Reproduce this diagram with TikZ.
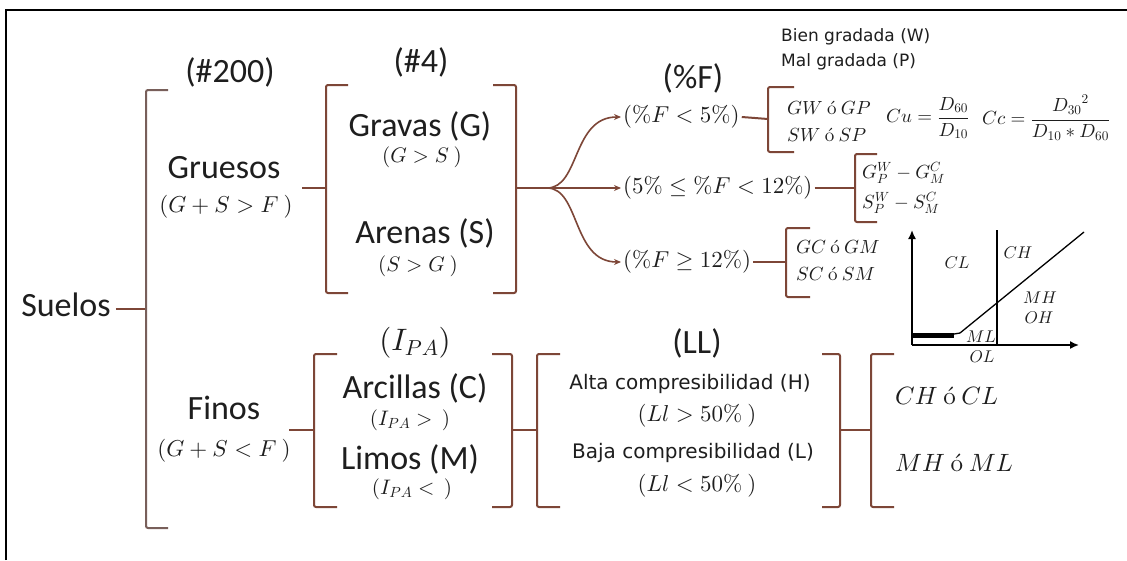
\documentclass[tikz,border=0pt]{standalone}
\usepackage{amsmath}
\usepackage[no-math]{fontspec}
\DeclareFontShape{OT1}{cmr}{m}{n}{<-> cmr10}{}
\DeclareFontShape{OML}{cmm}{m}{it}{<-> cmmi10}{}
\DeclareFontShape{OMS}{cmsy}{m}{n}{<-> cmsy10}{}
\DeclareFontShape{OMX}{cmex}{m}{n}{<-> cmex10}{}
\setmainfont{Carlito}
\newfontfamily\dvs{DejaVu Sans}
\usetikzlibrary{arrows.meta}
\definecolor{brA}{RGB}{120,95,90}
\definecolor{brB}{RGB}{125,70,55}
\definecolor{txt}{RGB}{30,30,30}
\newcommand\oo{\ \acute{\mathrm{o}}\ }
\tikzset{
  big/.style={font=\fontsize{34}{38}\selectfont, inner sep=0pt, text=txt},
  mth/.style={font=\fontsize{23}{27}\selectfont, inner sep=0pt, text=txt},
  sub/.style={font=\fontsize{21}{25}\selectfont, inner sep=0pt, text=txt},
  smm/.style={font=\fontsize{19}{22}\selectfont, inner sep=0pt, text=txt},
  chl/.style={font=\fontsize{17}{20}\selectfont, inner sep=0pt, text=txt},
  dv/.style={font=\dvs\fontsize{17}{20}\selectfont, inner sep=0pt, text=txt},
  dvb/.style={font=\dvs\fontsize{20}{24}\selectfont, inner sep=0pt, text=txt},
  brk/.style={draw=brB, line width=2pt, rounded corners=2pt},
  brkA/.style={draw=brA, line width=2pt, rounded corners=2pt},
  tick/.style={draw=brB, line width=2pt},
  arr/.style={draw=brB, line width=1.6pt, -{Stealth[length=7pt,width=6pt]}},
  ax/.style={draw=black, line width=1.6pt, -{Latex[length=9pt,width=8pt]}},
  chart/.style={draw=black, line width=1.3pt}
}
\newcommand\lbr[5][brk]{\draw[#1] (#2+#5,#3) -- (#2,#3) -- (#2,#4) -- (#2+#5,#4);}
\newcommand\rbr[5][brk]{\draw[#1] (#2-#5,#3) -- (#2,#3) -- (#2,#4) -- (#2-#5,#4);}
\begin{document}
\begin{tikzpicture}[x=1pt,y=-1pt]
\useasboundingbox (0,0) rectangle (1127,560);
\fill[white] (0,0) rectangle (1127,560);
% frame
\draw[line width=2pt] (6,560) -- (6,10) -- (1127,10);

% ---- level 0
\node[big] (suelos) at (66,305) {Suelos};
\coordinate (bS) at (146,309);
\draw[tick] (suelos.east) ++(5,4) -- (bS);
\lbr[brkA]{146}{90}{528}{22}
\node[big] (n200) at (230,72) {(\#200)};

% ---- Gruesos
\node[big] (grue) at (224,168) {Gruesos};
\node[mth] (grueC) at (226,207) {$(G+S>F\ )$};
\coordinate (tG0) at (302,188);
\coordinate (tG1) at (326,188);
\draw[tick] (tG0) -- (tG1);
\node[big] (n4) at (421,62) {(\#4)};
\lbr{326}{85}{293}{22}
\rbr{516}{85}{293}{23}
\node[big] (grav) at (420,126) {Gravas (G)};
\node[sub] (gravC) at (422,157) {$(G>S\ )$};
\node[big] (aren) at (425,233) {Arenas (S)};
\node[sub] (arenC) at (418,266) {$(S>G\ )$};
\coordinate (tR) at (516,188);
\coordinate (fork) at (547,188);
\draw[tick] (tR) -- (fork);

% ---- %F rows
\node[big] (pF) at (693,78) {(\%F)};
\node[mth, anchor=west, inner sep=2pt] (r1) at (621,117) {$(\%F<5\%)$};
\node[mth, anchor=west, inner sep=2pt] (r2) at (621,188) {$(5\%\le\%F<12\%)$};
\node[mth, anchor=west, inner sep=2pt] (r3) at (621,262) {$(\%F\ge12\%)$};
\draw[arr] (fork) .. controls (580,188) and (572,117) .. (r1.west);
\draw[arr] (fork) -- (r2.west);
\draw[arr] (fork) .. controls (580,188) and (572,262) .. (r3.west);

\coordinate (b1) at (768,119);
\coordinate (b2) at (855,188);
\coordinate (b3) at (786,262);
\draw[tick] (r1.east) -- (b1);
\draw[tick] (r2.east) -- (b2);
\draw[tick] (r3.east) -- (b3);
\lbr{768}{87}{152}{26}
\lbr{855}{154}{222}{22}
\lbr{786}{228}{297}{24}

\node[dv, anchor=west] (bien) at (781,37) {Bien gradada (W)};
\node[dv, anchor=west] (mal) at (781,62) {Mal gradada (P)};
\node[smm, anchor=west] (gw) at (787,108) {$GW\oo GP$};
\node[smm, anchor=west] (sw) at (787,135) {$SW\oo SP$};
\node[smm, anchor=west] (cu) at (886,118) {$Cu=\dfrac{D_{60}}{D_{10}}$};
\node[smm, anchor=west] (cc) at (982,118) {$Cc=\dfrac{{D_{30}}^{2}}{D_{10}*D_{60}}$};
\node[smm, anchor=west] (g2) at (862,173) {$G_P^W-G_M^C$};
\node[smm, anchor=west] (s2) at (862,203) {$S_P^W-S_M^C$};
\node[smm, anchor=west] (gc) at (796,247) {$GC\oo GM$};
\node[smm, anchor=west] (sc) at (796,274) {$SC\oo SM$};

% ---- plasticity chart
\coordinate (o) at (912,345);
\coordinate (yt) at (912,230);
\coordinate (xt) at (1079,345);
\draw[ax] (o) -- (yt);
\draw[ax] (o) -- (xt);
\draw[chart] (997,230) -- (997,345);
\draw[chart] (960,333) -- (1084,232);
\draw[line width=5pt, line cap=butt] (912,335.5) -- (954,335.5);
\draw[chart] (954,334) -- (960,333);
\node[chl] (cl) at (957,263) {$CL$};
\node[chl] (ch) at (1018,253) {$CH$};
\node[chl] (mh) at (1040,298) {$MH$};
\node[chl] (oh) at (1039,318) {$OH$};
\node[chl] (ml) at (981,337) {$ML$};
\node[chl] (ol) at (982,357) {$OL$};

% ---- Finos
\node[big] (fino) at (224,408) {Finos};
\node[mth] (finoC) at (224,451) {$(G+S<F\ )$};
\coordinate (tF0) at (289,430);
\coordinate (tF1) at (314,430);
\draw[tick] (tF0) -- (tF1);
\lbr{314}{354}{507}{23}
\rbr{512}{354}{507}{20}
\coordinate (h0) at (512,430);
\coordinate (h1) at (537,430);
\draw[tick] (h0) -- (h1);
\lbr{537}{354}{507}{23}
\node[font=\fontsize{31}{34}\selectfont, inner sep=0pt, text=txt] (ipa) at (415,343) {$(I_{PA})$};
\node[big] (arc) at (415,388) {Arcillas (C)};
\node[sub] (arcC) at (410,420) {$(I_{PA}>\ \ )$};
\node[big] (lim) at (410,459) {Limos (M)};
\node[sub] (limC) at (412,489) {$(I_{PA}<\ \ )$};

% ---- LL
\node[big] (LL) at (697,343) {(LL)};
\node[dvb] (alta) at (690,384) {Alta compresibilidad (H)};
\node[mth] (altaC) at (697,416) {$(Ll>50\%\ )$};
\node[dvb] (baja) at (693,453) {Baja compresibilidad (L)};
\node[mth] (bajaC) at (697,486) {$(Ll<50\%\ )$};
\rbr{840}{354}{507}{18}
\coordinate (k0) at (840,430);
\coordinate (k1) at (871,430);
\draw[tick] (k0) -- (k1);
\lbr{871}{354}{507}{23}
\node[font=\fontsize{25}{30}\selectfont, inner sep=0pt, text=txt, anchor=west] (chcl) at (895,396) {$CH\oo CL$};
\node[font=\fontsize{25}{30}\selectfont, inner sep=0pt, text=txt, anchor=west] (mhml) at (895,463) {$MH\oo ML$};
\end{tikzpicture}
\end{document}
